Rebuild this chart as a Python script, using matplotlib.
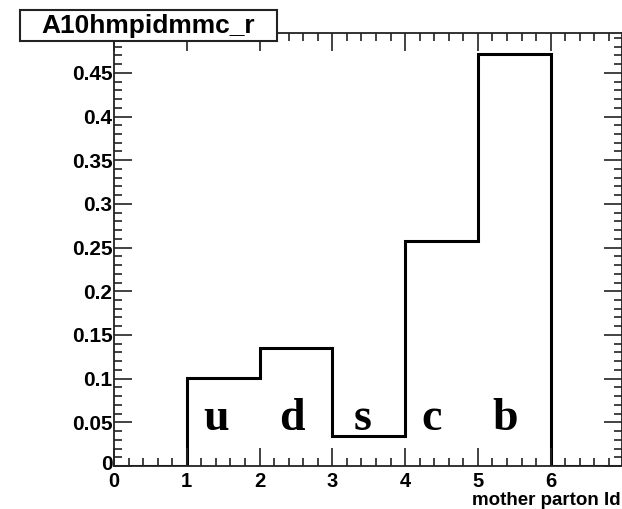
import matplotlib
matplotlib.use("Agg")
import matplotlib.pyplot as plt
from matplotlib.patches import Rectangle
from matplotlib.ticker import MultipleLocator
from matplotlib.transforms import ScaledTranslation

bin_edges = [0, 1, 2, 3, 4, 5, 6, 7]
bin_values = [0.0, 0.1008, 0.135, 0.034, 0.258, 0.472, 0.0]
quark_labels = ["u", "d", "s", "c", "b"]
quark_x = [1.40, 2.44, 3.42, 4.37, 5.37]
title_text = "A10hmpidmmc_r"
xlabel_text = "mother parton Id"

W, H = 622, 509
fig = plt.figure(figsize=(W / 100, H / 100), dpi=100)
ax = fig.add_axes([114 / W, 43 / H, 508 / W, 433 / H])

ax.stairs(bin_values, bin_edges, color="black", linewidth=2.2)
ax.set_xlim(0, 6.98)
ax.set_ylim(0, 0.4956)

ax.xaxis.set_major_locator(MultipleLocator(1))
ax.xaxis.set_minor_locator(MultipleLocator(0.2))
ax.yaxis.set_major_locator(MultipleLocator(0.05))
ax.yaxis.set_minor_locator(MultipleLocator(0.01))
ax.tick_params(which="both", direction="in", top=True, right=True, width=1.2, color="#222222")
ax.tick_params(which="major", length=13)
ax.tick_params(which="minor", length=6)
ax.tick_params(axis="x", which="major", pad=4)
ax.tick_params(axis="y", which="major", pad=1)

for sp in ax.spines.values():
    sp.set_linewidth(1.3)
    sp.set_color("#222222")

xt = list(range(0, 7))
ax.set_xticks(xt)
ax.set_xticklabels([str(v) for v in xt], family="Liberation Sans", weight="bold", size=14.5)
yt = [round(0.05 * i, 2) for i in range(0, 10)]
ax.set_yticks(yt)
ax.set_yticklabels(["0" if v == 0 else f"{v:g}" for v in yt],
                   family="Liberation Sans", weight="bold", size=15)
zero_lab = ax.get_yticklabels()[0]
zero_lab.set_transform(zero_lab.get_transform() + ScaledTranslation(0, 4 / 100, fig.dpi_scale_trans))

for lab, x in zip(quark_labels, quark_x):
    ax.text(x, 0.0412, lab, ha="center", va="baseline", family="Liberation Serif",
            weight="bold", fontsize=33)

fig.text(621 / W, (H - 505) / H, xlabel_text, ha="right", va="baseline",
         family="Liberation Sans", weight="bold", fontsize=13.5)

# title box
fig.patches.append(Rectangle((20 / W, (H - 41) / H), 257 / W, 31 / H,
                             transform=fig.transFigure, facecolor="white",
                             edgecolor="#222222", linewidth=1.5, zorder=5))
fig.text(148.5 / W, (H - 25.5) / H, title_text, ha="center", va="center",
         family="Liberation Sans", weight="bold", fontsize=19, zorder=6)

fig.savefig("out.png", dpi=100)
